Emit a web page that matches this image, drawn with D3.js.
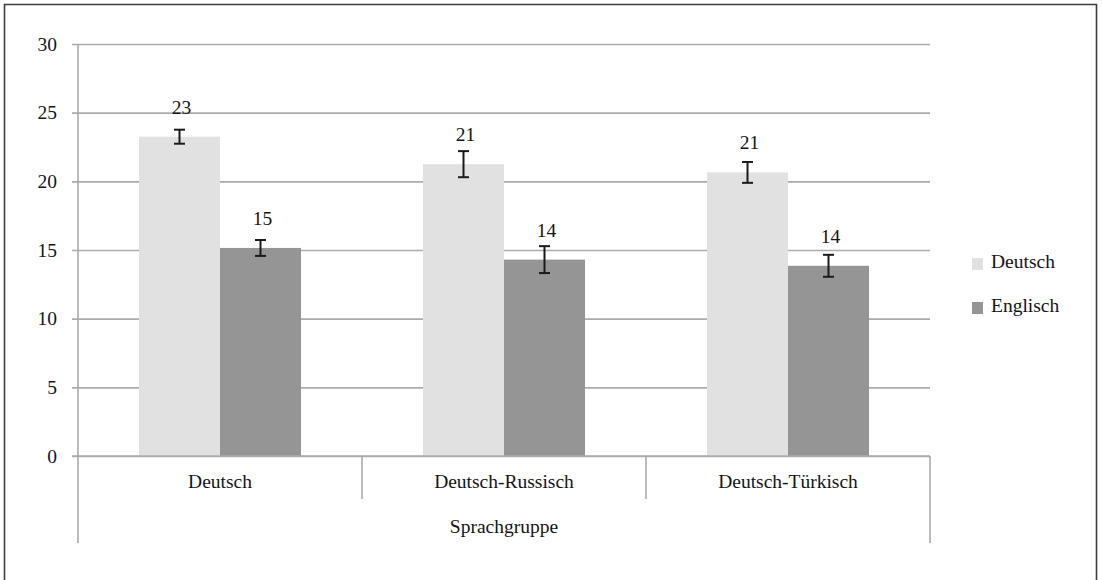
<!DOCTYPE html>
<html>
<head>
<meta charset="utf-8">
<script src="https://cdn.jsdelivr.net/npm/d3@7"></script>
<style>
  html, body { margin: 0; padding: 0; background: #fff; }
  svg { display: block; }
  svg text { font-family: "Liberation Serif", "Times New Roman", serif !important; fill: #141414; font-size: 19.5px; }
</style>
</head>
<body>
<svg id="chart" width="1102" height="580"></svg>
<script>
// Mittelwerte je Sprachgruppe und Testsprache, mit Standardfehler
const groups = ["Deutsch", "Deutsch-Russisch", "Deutsch-Türkisch"];
const series = ["Deutsch", "Englisch"];
const deutschValues = [23.25, 21.25, 20.65];
const englischValues = [15.15, 14.3, 13.85];
const deutschErrors = [0.51, 0.95, 0.76];
const englischErrors = [0.58, 0.98, 0.8];
const yTicks = [0, 5, 10, 15, 20, 25, 30];
const axisTitle = "Sprachgruppe";

const colors = { Deutsch: "#e1e1e1", Englisch: "#959595" };
const gridColor = "#ababab";

const rows = groups.map((g, i) => ({
  group: g,
  bars: [
    { key: "Deutsch", value: deutschValues[i], err: deutschErrors[i] },
    { key: "Englisch", value: englischValues[i], err: englischErrors[i] }
  ]
}));

const svg = d3.select("#chart");
const plotLeft = 78, plotRight = 930, plotTop = 44, plotBottom = 456;

// Rahmen (oben, links, rechts)
svg.append("path")
  .attr("d", "M4.5,580 V4.5 H1096.5 V580")
  .attr("fill", "none").attr("stroke", "#3c3c3c").attr("stroke-width", 1.6);

const y = d3.scaleLinear().domain([0, 30]).range([plotBottom, plotTop]);
const x0 = d3.scaleBand().domain(groups).range([plotLeft, plotRight]).paddingInner(0).paddingOuter(0);
const x1 = d3.scaleBand().domain(series).range([0, x0.bandwidth()]).paddingInner(0).paddingOuter(0.753);

// Gitternetz und y-Achse
const yAxis = d3.axisLeft(y).tickValues(yTicks).tickSize(-(plotRight - plotLeft)).tickPadding(0).tickFormat(d3.format("d"));
const gy = svg.append("g").attr("transform", `translate(${plotLeft},0)`).call(yAxis)
  .attr("font-family", null).attr("font-size", null);
gy.select(".domain").remove();
gy.selectAll(".tick line").attr("stroke", gridColor).attr("stroke-width", 1.6).attr("x1", -6);
gy.selectAll(".tick text").attr("x", -21).attr("dy", "0.32em")
  .attr("text-anchor", "end").attr("fill", null);

// Balken
const gGroups = svg.append("g").selectAll("g").data(rows).join("g")
  .attr("transform", d => `translate(${x0(d.group)},0)`);

gGroups.selectAll("rect").data(d => d.bars).join("rect")
  .attr("x", d => x1(d.key))
  .attr("y", d => y(d.value))
  .attr("width", x1.bandwidth())
  .attr("height", d => y(0) - y(d.value))
  .attr("fill", d => colors[d.key]);

// Fehlerbalken
const cap = 5.5;
const eb = gGroups.selectAll("g.err").data(d => d.bars).join("g").attr("class", "err")
  .attr("transform", d => `translate(${x1(d.key) + x1.bandwidth() / 2},0)`)
  .attr("stroke", "#1a1a1a").attr("stroke-width", 2);
eb.append("line").attr("x1", 0).attr("x2", 0).attr("y1", d => y(d.value + d.err)).attr("y2", d => y(d.value - d.err));
eb.append("line").attr("x1", -cap).attr("x2", cap).attr("y1", d => y(d.value + d.err)).attr("y2", d => y(d.value + d.err));
eb.append("line").attr("x1", -cap).attr("x2", cap).attr("y1", d => y(d.value - d.err)).attr("y2", d => y(d.value - d.err));

// Datenbeschriftungen
gGroups.selectAll("text.val").data(d => d.bars).join("text").attr("class", "val")
  .attr("x", d => x1(d.key) + x1.bandwidth() / 2 + 2)
  .attr("y", d => y(d.value) - 23)
  .attr("text-anchor", "middle")
  .text(d => d3.format(".0f")(d.value));

// Kategorienachse mit Gruppentrennern
const axisG = svg.append("g").attr("stroke", gridColor).attr("stroke-width", 1.6).attr("fill", "none");
axisG.append("line").attr("x1", plotLeft - 6).attr("x2", plotRight).attr("y1", plotBottom).attr("y2", plotBottom);
axisG.append("line").attr("x1", plotLeft).attr("x2", plotLeft).attr("y1", plotTop).attr("y2", 543);
axisG.append("line").attr("x1", plotRight).attr("x2", plotRight).attr("y1", plotBottom).attr("y2", 543);
axisG.selectAll("line.sep").data(groups.slice(1)).join("line").attr("class", "sep")
  .attr("x1", d => x0(d)).attr("x2", d => x0(d)).attr("y1", plotBottom).attr("y2", 499);

svg.append("g").selectAll("text").data(groups).join("text")
  .attr("x", d => x0(d) + x0.bandwidth() / 2)
  .attr("y", 488)
  .attr("text-anchor", "middle")
  .text(d => d);

svg.append("text")
  .attr("x", (plotLeft + plotRight) / 2).attr("y", 533)
  .attr("text-anchor", "middle")
  .text(axisTitle);

// Legende
const legend = svg.append("g").selectAll("g").data(series).join("g")
  .attr("transform", (d, i) => `translate(972,${258 + i * 44})`);
legend.append("rect").attr("width", 11).attr("height", 12).attr("fill", d => colors[d]);
legend.append("text").attr("x", 19).attr("y", 10).text(d => d);
</script>
</body>
</html>
